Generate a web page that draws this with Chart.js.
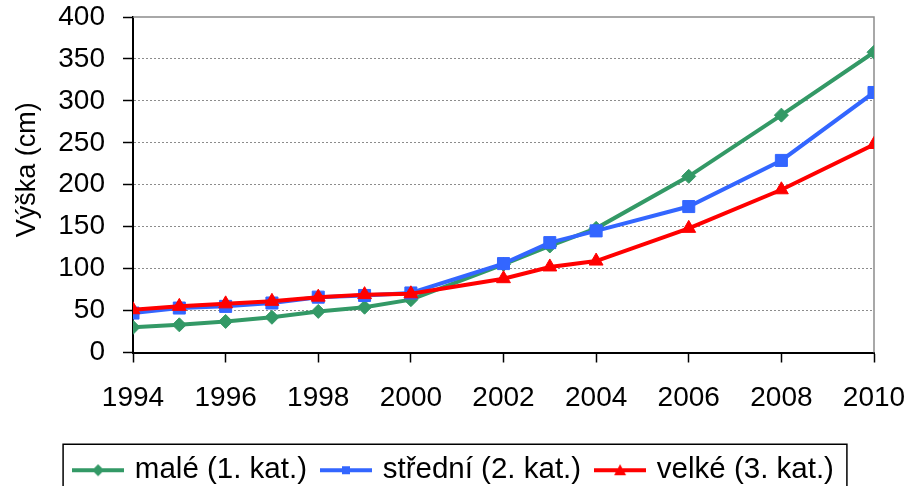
<!DOCTYPE html>
<html>
<head>
<meta charset="utf-8">
<script src="https://cdn.jsdelivr.net/npm/chart.js@4.4.1/dist/chart.umd.min.js"></script>
<style>
  html, body { margin: 0; padding: 0; background: #fff; }
</style>
</head>
<body>
<canvas id="heightChart" width="911" height="486"></canvas>
<script>
const years = [1994, 1995, 1996, 1997, 1998, 1999, 2000, 2002, 2003, 2004, 2006, 2008, 2010];
const male = [30, 33, 37, 42, 49, 54, 63, 105, 127, 148, 210, 283, 358];
const stredni = [47, 53, 55, 59, 66, 68, 71, 106, 131, 145, 174, 229, 310];
const velke = [51, 55, 58, 61, 66, 69, 70, 88, 102, 109, 148, 194, 248];
const seriesNames = ['malé (1. kat.)', 'střední (2. kat.)', 'velké (3. kat.)'];
const yAxisTitle = 'Výška (cm)';

const GREEN = '#339966';
const BLUE = '#3366FF';
const RED = '#FF0000';
const FONT = 'Liberation Sans';

// small line + marker glyph for the legend, like the Excel one
function legendGlyph(color, shape) {
    const c = document.createElement('canvas');
    c.width = 52;
    c.height = 16;
    const g = c.getContext('2d');
    g.strokeStyle = color;
    g.lineWidth = 4;
    g.beginPath();
    g.moveTo(0, 8);
    g.lineTo(52, 8);
    g.stroke();
    g.fillStyle = color;
    g.beginPath();
    if (shape === 'diamond') {
        g.moveTo(26, 2); g.lineTo(32, 8); g.lineTo(26, 14); g.lineTo(20, 8);
    } else if (shape === 'square') {
        g.rect(22, 4, 8, 8);
    } else {
        g.moveTo(26, 2); g.lineTo(32, 13); g.lineTo(20, 13);
    }
    g.closePath();
    g.fill();
    return c;
}

const glyphs = [
    legendGlyph(GREEN, 'diamond'),
    legendGlyph(BLUE, 'square'),
    legendGlyph(RED, 'triangle')
];

function toPoints(values) {
    return years.map((x, i) => ({ x: x, y: values[i] }));
}

// gray frame on top and right of the plot area
const framePlugin = {
    id: 'frame',
    beforeDatasetsDraw(chart) {
        const { ctx, chartArea: a } = chart;
        ctx.save();
        ctx.strokeStyle = '#8c8c8c';
        ctx.lineWidth = 1.5;
        ctx.beginPath();
        ctx.moveTo(a.left, a.top);
        ctx.lineTo(a.right, a.top);
        ctx.lineTo(a.right, a.bottom);
        ctx.stroke();
        ctx.restore();
    }
};

// legend sits a bit right of the centre in the original, and has a black box
const legendBoxPlugin = {
    id: 'legendBox',
    afterLayout(chart) {
        const lg = chart.legend;
        if (!lg) return;
        lg.left += 18;
        lg.right += 18;
    },
    afterDraw(chart) {
        const boxes = chart.legend && chart.legend.legendHitBoxes;
        if (!boxes || !boxes.length) return;
        const left = Math.min(...boxes.map(b => b.left)) - 13;
        const right = Math.max(...boxes.map(b => b.left + b.width)) + 13;
        const mid = boxes[0].top + boxes[0].height / 2;
        const top = mid - 26;
        const ctx = chart.ctx;
        ctx.save();
        ctx.strokeStyle = '#000';
        ctx.lineWidth = 1.5;
        ctx.strokeRect(left, top, right - left, 60);
        ctx.restore();
    }
};

const lineDefaults = {
    borderWidth: 4,
    pointBorderWidth: 1,
    fill: false,
    tension: 0
};

new Chart(document.getElementById('heightChart'), {
    type: 'line',
    data: {
        datasets: [
            Object.assign({}, lineDefaults, {
                label: seriesNames[0],
                data: toPoints(male),
                borderColor: GREEN,
                backgroundColor: GREEN,
                pointStyle: 'rectRot',
                pointRadius: 7,
                order: 3
            }),
            Object.assign({}, lineDefaults, {
                label: seriesNames[1],
                data: toPoints(stredni),
                borderColor: BLUE,
                backgroundColor: BLUE,
                pointStyle: 'rect',
                pointRadius: 8.5,
                order: 2
            }),
            Object.assign({}, lineDefaults, {
                label: seriesNames[2],
                data: toPoints(velke),
                borderColor: RED,
                backgroundColor: RED,
                pointStyle: 'triangle',
                pointRadius: 8,
                order: 1
            })
        ]
    },
    options: {
        responsive: false,
        animation: false,
        layout: {
            padding: { top: 17, right: 37, left: 0, bottom: -9 }
        },
        scales: {
            x: {
                type: 'linear',
                min: 1994,
                max: 2010,
                afterFit(scale) {
                    scale.height = 86;
                    scale.paddingLeft = 0;
                    scale.paddingRight = 0;
                },
                ticks: {
                    stepSize: 2,
                    color: '#000',
                    padding: 19,
                    maxRotation: 0,
                    font: { family: FONT, size: 28 },
                    callback: v => String(v)
                },
                grid: {
                    drawOnChartArea: false,
                    drawTicks: true,
                    tickLength: 10,
                    tickColor: '#000',
                    tickWidth: 1.5
                },
                border: { color: '#000', width: 2 }
            },
            y: {
                min: 0,
                max: 400,
                afterFit(scale) {
                    scale.width = 133;
                    scale.paddingTop = 0;
                    scale.paddingBottom = 0;
                },
                ticks: {
                    stepSize: 50,
                    color: '#000',
                    padding: 18,
                    font: { family: FONT, size: 28 }
                },
                grid: {
                    color: ctx => (ctx.tick && (ctx.tick.value === 0 || ctx.tick.value === 400)) ? 'rgba(0,0,0,0)' : '#8c8c8c',
                    lineWidth: 1,
                    tickLength: 10,
                    tickColor: '#000',
                    tickWidth: 1.5
                },
                border: { color: '#000', width: 2, dash: [2, 2] },
                title: {
                    display: true,
                    text: '    ' + yAxisTitle,
                    color: '#000',
                    padding: { top: 11, bottom: 0 },
                    font: { family: FONT, size: 27 }
                }
            }
        },
        plugins: {
            legend: {
                position: 'bottom',
                labels: {
                    color: '#000',
                    font: { family: FONT, size: 29.5 },
                    usePointStyle: true,
                    pointStyleWidth: 44,
                    padding: 17,
                    sort: (a, b) => a.datasetIndex - b.datasetIndex,
                    generateLabels(chart) {
                        const items = Chart.defaults.plugins.legend.labels.generateLabels(chart);
                        items.forEach(it => { it.pointStyle = glyphs[it.datasetIndex]; });
                        return items;
                    }
                }
            },
            tooltip: { enabled: false }
        }
    },
    plugins: [framePlugin, legendBoxPlugin]
});
</script>
</body>
</html>
